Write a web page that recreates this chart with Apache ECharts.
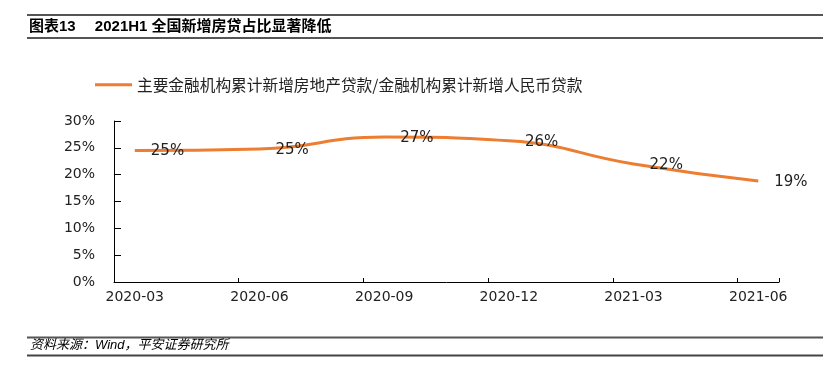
<!DOCTYPE html>
<html><head><meta charset="utf-8">
<script src="https://cdn.jsdelivr.net/npm/echarts@6/dist/echarts.min.js"></script>
<style>html,body{margin:0;padding:0;background:#fff}#c{width:828px;height:376px}</style>
</head><body><div id="c"></div>
<script>
// Monthly category axis (Excel date axis), labels every quarter
const months = ['2020-03','2020-04','2020-05','2020-06','2020-07','2020-08','2020-09','2020-10','2020-11','2020-12','2021-01','2021-02','2021-03','2021-04','2021-05','2021-06'];
// Quarterly observations
const quarterMonths = ['2020-03','2020-06','2020-09','2020-12','2021-03','2021-06'];
const quarterValues = [24.5, 24.8, 27.0, 26.3, 22.0, 18.8];
const titleText = '图表13\u3000 2021H1 全国新增房贷占比显著降低';
const seriesName = '主要金融机构累计新增房地产贷款/金融机构累计新增人民币贷款';
const sourceText = '资料来源：Wind，平安证券研究所';

const seriesData = months.map(m => {
  const i = quarterMonths.indexOf(m);
  return i >= 0 ? quarterValues[i] : null;
});

const LATIN = 'DejaVu Sans';
const CJK = '"Noto Sans CJK SC", "Liberation Sans", sans-serif';
const chart = echarts.init(document.getElementById('c'));
chart.setOption({
  animation: false,
  backgroundColor: '#fff',
  title: {
    text: titleText, left: 29, top: 19, padding: 0,
    textStyle: {fontSize: 15, fontWeight: 'bold', color: '#000', fontFamily: '"Liberation Sans", "Noto Sans CJK SC", sans-serif'}
  },
  graphic: [
    {type: 'line', shape: {x1: 27, y1: 15, x2: 823, y2: 15}, style: {stroke: '#555', lineWidth: 2}},
    {type: 'line', shape: {x1: 27, y1: 38, x2: 823, y2: 38}, style: {stroke: '#555', lineWidth: 2}},
    {type: 'line', shape: {x1: 27, y1: 337.5, x2: 823, y2: 337.5}, style: {stroke: '#555', lineWidth: 2}},
    {type: 'line', shape: {x1: 27, y1: 355.5, x2: 823, y2: 355.5}, style: {stroke: '#444', lineWidth: 2}},
    {type: 'text', left: 30, top: 339, style: {text: sourceText, font: 'italic 13px "Liberation Sans", "Noto Sans CJK SC", sans-serif', fill: '#000'}}
  ],
  legend: {
    data: [seriesName], left: 95, top: 77, icon: 'rect', itemWidth: 37, itemHeight: 3, padding: 0,
    textStyle: {fontSize: 15.7, fontFamily: CJK, color: '#222'}
  },
  grid: {left: 114, right: 49, top: 121, bottom: 94, containLabel: false},
  xAxis: {
    type: 'category', data: months, boundaryGap: true,
    axisLine: {lineStyle: {color: '#000', width: 1}},
    axisTick: {show: true, interval: (i) => i % 3 === 0, inside: true, length: 4, lineStyle: {color: '#000'}},
    axisLabel: {interval: 2, margin: 8, fontSize: 14, fontFamily: LATIN, color: '#222'},
    splitLine: {show: false}
  },
  yAxis: {
    type: 'value', min: 0, max: 30, interval: 5,
    axisLine: {show: true, lineStyle: {color: '#000', width: 1}},
    axisTick: {show: true, inside: true, length: 7, lineStyle: {color: '#000'}},
    axisLabel: {formatter: '{value}%', margin: 19, fontSize: 14, fontFamily: LATIN, color: '#222'},
    splitLine: {show: false}
  },
  series: [{
    name: seriesName, type: 'line', data: seriesData, connectNulls: true, smooth: 0.5,
    symbol: 'circle', symbolSize: 0.1, showSymbol: true,
    itemStyle: {color: '#ED7D31'},
    lineStyle: {color: '#ED7D31', width: 3},
    label: {
      show: true, position: 'right', distance: 16, offset: [0, 1],
      formatter: p => Math.round(p.value) + '%',
      fontSize: 15, fontFamily: LATIN, color: '#222'
    }
  }]
});
</script></body></html>
